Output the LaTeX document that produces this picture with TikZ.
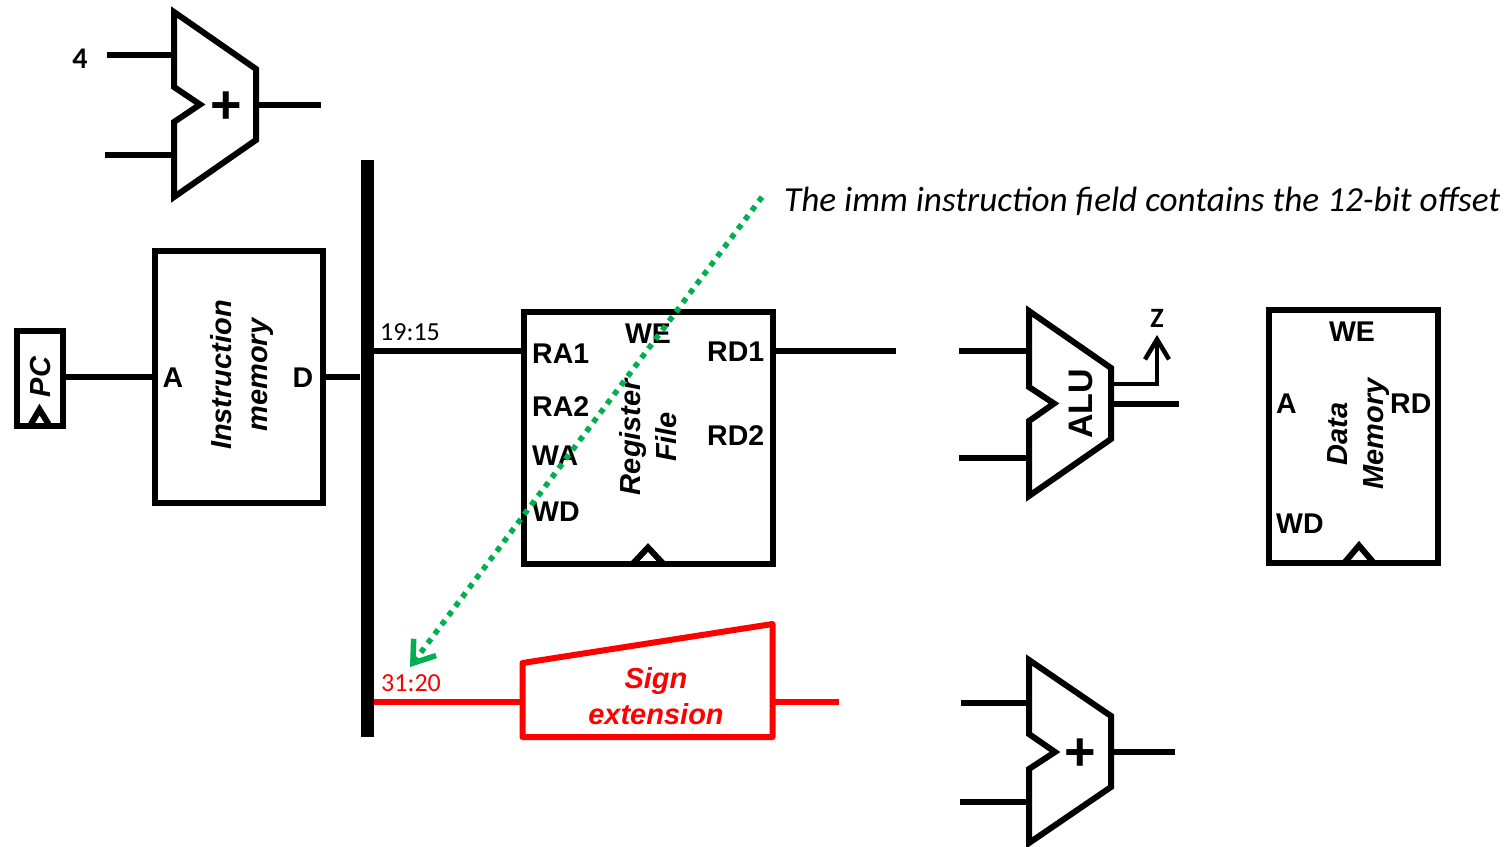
\documentclass[tikz,border=0pt]{standalone}
\usepackage{fontspec}
\setmainfont{Liberation Sans}
\newfontfamily\calibri{Carlito}
\usetikzlibrary{arrows.meta}
\definecolor{arrowgreen}{HTML}{00B050}
\definecolor{signred}{HTML}{FF0000}
\begin{document}
\begin{tikzpicture}[x=1pt,y=-1pt]

      \tikzset{wire/.style={line width=5.5pt},
               outline/.style={line width=6pt},
               block/.style={draw, outline, rectangle, inner sep=0pt},
               pin/.style={inner sep=0pt, font=\bfseries\fontsize{28.5}{32}\selectfont},
               title/.style={inner sep=0pt, rotate=90, align=center, font=\bfseries\itshape\fontsize{29}{36}\selectfont},
               tag/.style={inner sep=0pt, font=\calibri\fontsize{26}{30}\selectfont}}
      \useasboundingbox (0,0) rectangle (1507,846);
%% Blocks
      	\node[block, minimum width=46pt, minimum height=95pt] (pc) at (39.5,378.5) {};
      	\node[block, minimum width=168pt, minimum height=252pt] (imem) at (238.5,376.5) {};
      	\node[block, minimum width=249pt, minimum height=251.5pt] (regfile) at (648,437.75) {};
      	\node[block, minimum width=169pt, minimum height=252.5pt] (dmem) at (1353.5,436.25) {};
      	\node[fill=black, inner sep=0pt, minimum width=13pt, minimum height=577pt] (bus) at (367,448.5) {};
%% Adders and ALU
      	\draw[outline] (174,12) -- (256,69) -- (256,140) -- (174,197) -- (174,122) -- (200,104.5) -- (174,87) -- cycle;
      	\draw[outline] (1029,660) -- (1111,716) -- (1111,787) -- (1029,843) -- (1029,769) -- (1055,752) -- (1029,734) -- cycle;
      	\draw[outline] (1029,311) -- (1111,368) -- (1111,439) -- (1029,496) -- (1029,421) -- (1054,403.5) -- (1029,387) -- cycle;
      	\draw[signred, outline, line join=round] (522.5,663) -- (772.5,624) -- (772.5,737) -- (522.5,737) -- cycle;
%% Clock marks
      	\draw[outline] (31,424) -- (39.5,409.5) -- (48.5,424);
      	\draw[outline] (633,563.5) -- (648,547.5) -- (663,563.5);
      	\draw[outline] (1345,562) -- (1359,545.5) -- (1373,562);
%% Labels
      	\node[pin, font=\calibri\bfseries\fontsize{30}{32}\selectfont] (four) at (80,59) {4};
      	\node[pin, font=\bfseries\fontsize{54}{54}\selectfont] (plusa) at (226,108) {+};
      	\node[pin, font=\bfseries\fontsize{54}{54}\selectfont] (plusb) at (1080,755) {+};
      	\node[title] (pclabel) at (40.5,377) {PC};
      	\node[pin] (imema) at (173,378) {A};
      	\node[pin] (imemd) at (303,378) {D};
      	\node[title] (imemlabel) at (242,375) {Instruction\\memory};
      	\node[tag] (rs) at (410,332) {19:15};
      	\node[tag, signred] (imm) at (411,683) {31:20};
      	\node[pin, anchor=west] (ra1) at (532,354) {RA1};
      	\node[pin, anchor=west] (ra2) at (532,407) {RA2};
      	\node[pin, anchor=west] (wa) at (532,456) {WA};
      	\node[pin, anchor=west] (wd) at (532,512) {WD};
      	\node[pin] (we) at (648,334) {WE};
      	\node[pin, anchor=west] (rd1) at (707,352) {RD1};
      	\node[pin, anchor=west] (rd2) at (707,436) {RD2};
      	\node[title] (reglabel) at (648,437) {Register\\File};
      	\node[inner sep=0pt, align=center, text=signred, font=\bfseries\itshape\fontsize{29}{36}\selectfont] (sign) at (656,696) {Sign\\extension};
      	\node[pin, rotate=90, font=\bfseries\fontsize{34}{36}\selectfont] (alulabel) at (1081,404) {ALU};
      	\node[tag, font=\calibri\bfseries\fontsize{28}{30}\selectfont] (zero) at (1157,318) {Z};
      	\node[pin] (dwe) at (1352,332) {WE};
      	\node[pin, anchor=west] (da) at (1276,404) {A};
      	\node[pin, anchor=west] (drd) at (1390,404) {RD};
      	\node[pin, anchor=west] (dwd) at (1276,524) {WD};
      	\node[title] (dmemlabel) at (1358.5,434) {Data\\Memory};
      	\node[inner sep=0pt, anchor=west, font=\calibri\itshape\fontsize{35.2}{38}\selectfont] (note) at (784,201) {The imm instruction field contains the 12-bit offset};
%Free ends
      	\coordinate (adda) at (107,55);
      	\coordinate (addain) at (174,55);
      	\coordinate (addb) at (105,155);
      	\coordinate (addbin) at (174,155);
      	\coordinate (addout) at (256,105);
      	\coordinate (addend) at (321,105);
      	\coordinate (rdone) at (896,351);
      	\coordinate (aluaw) at (959,351);
      	\coordinate (aluain) at (1029,351);
      	\coordinate (alubw) at (959,458);
      	\coordinate (alubin) at (1029,458);
      	\coordinate (aluout) at (1111,404);
      	\coordinate (aluend) at (1179,404);
      	\coordinate (zfrom) at (1111,384);
      	\coordinate (zto) at (1157,335);
      	\coordinate (signin) at (522.5,702);
      	\coordinate (signout) at (772.5,702);
      	\coordinate (signend) at (839,702);
      	\coordinate (adcaw) at (961,703);
      	\coordinate (adcain) at (1029,703);
      	\coordinate (adcbw) at (960,802);
      	\coordinate (adcbin) at (1029,802);
      	\coordinate (adcout) at (1111,752);
      	\coordinate (adcend) at (1175,752);
      	\coordinate (notestart) at (762,197);
      	\coordinate (notetip) at (410,667);
%Edges
		\path[wire] (adda) edge (addain);
		\path[wire] (addb) edge (addbin);
		\path[wire] (addout) edge (addend);
		\path[wire] (pc.east |- 0,377) edge (imem.west |- 0,377);
		\path[wire] (imem.east |- 0,377) edge (bus.west |- 0,377);
		\path[wire] (bus.east |- 0,351) edge (regfile.west |- 0,351);
		\path[wire] (regfile.east |- rdone) edge (rdone);
		\path[wire] (aluaw) edge (aluain);
		\path[wire] (alubw) edge (alubin);
		\path[wire] (aluout) edge (aluend);
		\path[wire] (adcaw) edge (adcain);
		\path[wire] (adcbw) edge (adcbin);
		\path[wire] (adcout) edge (adcend);
		\path[wire, signred] (bus.east |- signin) edge (signin);
		\path[wire, signred] (signout) edge (signend);
		\draw[line width=4.5pt, -{Straight Barb[length=20pt, width=24pt, line width=4.5pt]}] (zfrom) -| (zto);
		\draw[arrowgreen, line width=5.5pt, dash pattern=on 5.5pt off 6pt, -{Straight Barb[length=20pt, width=28pt, line width=5.5pt]}] (notestart) -- (notetip);

	\end{tikzpicture}
\end{document}
